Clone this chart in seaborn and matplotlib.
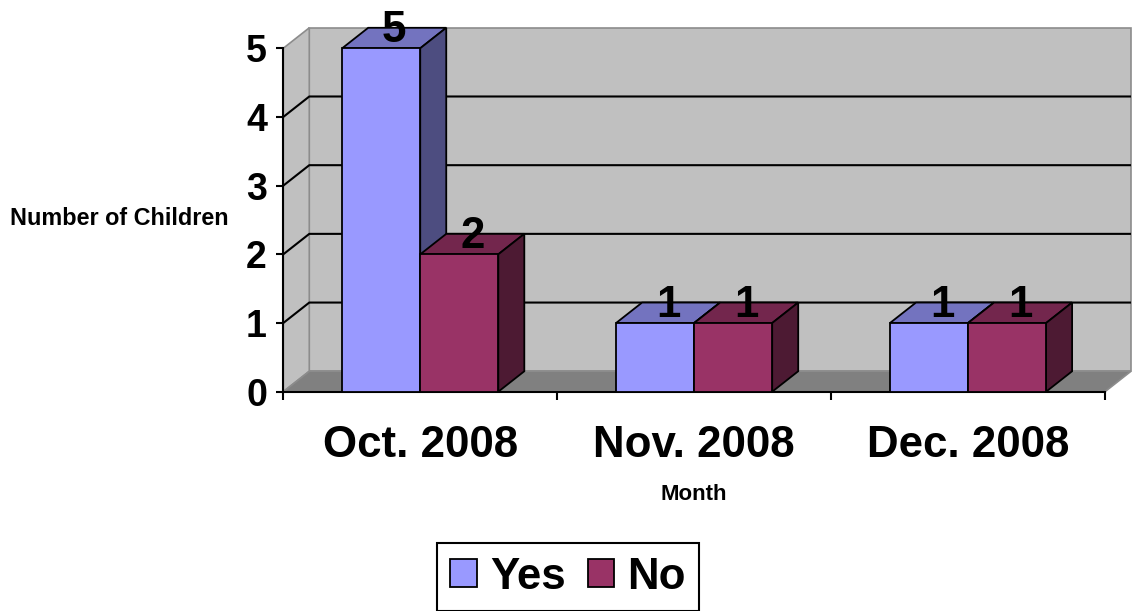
import matplotlib
matplotlib.use("Agg")
import matplotlib.pyplot as plt
from matplotlib.patches import Polygon, Patch
import pandas as pd
import seaborn as sns

# Survey answers per month
months = ["Oct. 2008", "Nov. 2008", "Dec. 2008"]
answers = ["Yes", "No"]
yes_counts = [5, 1, 1]
no_counts = [2, 1, 1]
y_ticks = [0, 1, 2, 3, 4, 5]

front_colors = {"Yes": "#9999FF", "No": "#993366"}
top_colors = {"Yes": "#7373BF", "No": "#73264D"}
side_colors = {"Yes": "#4D4D80", "No": "#4D1A33"}

df = pd.DataFrame({
    "Month": months * 2,
    "Answer": ["Yes"] * len(months) + ["No"] * len(months),
    "Count": yes_counts + no_counts,
})

sns.set_style("white")
plt.rcParams["font.family"] = ["Liberation Sans", "DejaVu Sans"]
plt.rcParams["font.weight"] = "bold"
plt.rcParams["axes.labelweight"] = "bold"
for key in ("text.color", "axes.labelcolor", "xtick.color", "ytick.color",
            "xtick.labelcolor", "ytick.labelcolor"):
    plt.rcParams[key] = "black"

fig = plt.figure(figsize=(11.34, 6.11), dpi=100)
ax = fig.add_axes([0.2498, 0.3589, 0.7246, 0.5621])
ax.patch.set_visible(False)

# depth of the 3-D box, in data units
DX, DY = 0.095, 0.298
X0, X1, YTOP = -0.5, 2.5, y_ticks[-1]

# back wall, side wall and floor
wall_kw = dict(closed=True, edgecolor="#8C8C8C", linewidth=1.2, clip_on=False, zorder=0.5)
ax.add_patch(Polygon([(X0 + DX, DY), (X1 + DX, DY), (X1 + DX, YTOP + DY), (X0 + DX, YTOP + DY)],
                     facecolor="#C0C0C0", **wall_kw))
ax.add_patch(Polygon([(X0, 0), (X0 + DX, DY), (X0 + DX, YTOP + DY), (X0, YTOP)],
                     facecolor="#C0C0C0", **wall_kw))
ax.add_patch(Polygon([(X0, 0), (X0 + DX, DY), (X1 + DX, DY), (X1, 0)],
                     facecolor="#808080", **wall_kw))
for v in y_ticks[1:-1]:
    ax.plot([X0, X0 + DX, X1 + DX], [v, v + DY, v + DY], color="black", lw=1.5,
            clip_on=False, zorder=0.6, solid_capstyle="butt")

sns.barplot(data=df, x="Month", y="Count", hue="Answer", order=months, hue_order=answers,
            palette=front_colors, saturation=1, width=0.57, dodge=True, errorbar=None,
            edgecolor="black", linewidth=1.3, legend=False, ax=ax)

# top and side faces of each column, plus value labels
for answer, container in zip(answers, ax.containers):
    for bar in container.patches:
        x, w, h = bar.get_x(), bar.get_width(), bar.get_height()
        z = 3 + x
        bar.set_zorder(z + 0.02)
        bar.set_clip_on(False)
        ax.add_patch(Polygon([(x, h), (x + DX, h + DY), (x + w + DX, h + DY), (x + w, h)],
                             closed=True, facecolor=top_colors[answer], edgecolor="black",
                             linewidth=1.3, clip_on=False, zorder=z))
        ax.add_patch(Polygon([(x + w, 0), (x + w + DX, DY), (x + w + DX, h + DY), (x + w, h)],
                             closed=True, facecolor=side_colors[answer], edgecolor="black",
                             linewidth=1.3, clip_on=False, zorder=z))
        ax.text(x + w / 2 + DX / 2, h + 0.09, f"{h:g}", ha="center", va="baseline",
                fontsize=31.6, fontweight="bold", color="black", zorder=10)

ax.set_xlim(X0, X1)
ax.set_ylim(0, YTOP)
ax.set_yticks(y_ticks)
ax.set_xticks([-0.5, 0.5, 1.5, 2.5], minor=True)
ax.tick_params(axis="y", which="major", length=4.8, width=1.5, direction="out", pad=7,
               labelsize=27, color="black", labelcolor="black", left=True)
ax.tick_params(axis="x", which="major", length=0, pad=24, labelsize=31.6, labelcolor="black")
ax.tick_params(axis="x", which="minor", length=6, width=1.5, direction="out", color="black",
               bottom=True)
for s in ("top", "right"):
    ax.spines[s].set_visible(False)
for s in ("left", "bottom"):
    ax.spines[s].set_color("black")
    ax.spines[s].set_linewidth(1.5)
    ax.spines[s].set_zorder(2.5)

ax.set_ylabel("Number of Children", rotation=0, ha="center", va="center", fontsize=16.8,
              color="black")
ax.yaxis.set_label_coords(-0.2, 0.504)
ax.set_xlabel("Month", ha="center", va="center", fontsize=16, color="black")
ax.xaxis.set_label_coords(0.5, -0.299)

handles = [Patch(facecolor=front_colors[a], edgecolor="black", linewidth=1.3, label=a)
           for a in answers]
leg = fig.legend(handles=handles, loc="center", bbox_to_anchor=(0.5009, 0.0556), ncol=2,
                 frameon=True, fancybox=False, framealpha=1, edgecolor="black",
                 fontsize=31.6, handlelength=0.61, handleheight=0.61, handletextpad=0.3,
                 columnspacing=0.5, borderpad=0.3, borderaxespad=0, labelcolor="black")
leg.get_frame().set_linewidth(1.5)

fig.savefig("out.png", dpi=100)
